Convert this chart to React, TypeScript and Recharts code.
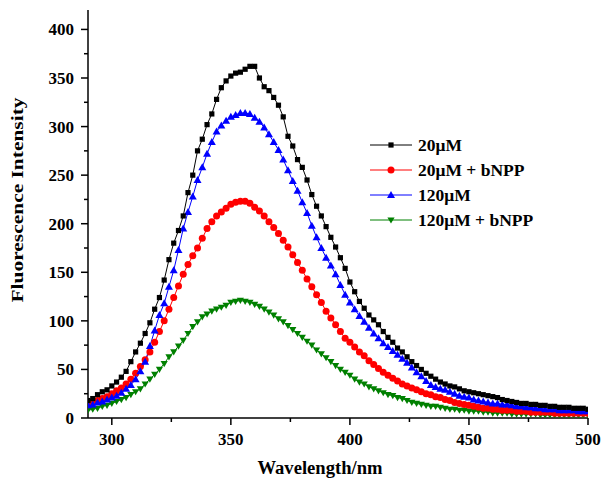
import React from 'react';
import { LineChart, Line, XAxis, YAxis, Legend } from 'recharts';

const wavelengths = [
  290, 292, 294, 296, 298, 300, 302, 304, 306, 308, 310, 312, 314, 316, 318, 320, 322, 324, 326, 328,
  330, 332, 334, 336, 338, 340, 342, 344, 346, 348, 350, 352, 354, 356, 358, 360, 362, 364, 366, 368,
  370, 372, 374, 376, 378, 380, 382, 384, 386, 388, 390, 392, 394, 396, 398, 400, 402, 404, 406, 408,
  410, 412, 414, 416, 418, 420, 422, 424, 426, 428, 430, 432, 434, 436, 438, 440, 442, 444, 446, 448,
  450, 452, 454, 456, 458, 460, 462, 464, 466, 468, 470, 472, 474, 476, 478, 480, 482, 484, 486, 488,
  490, 492, 494, 496, 498, 500,
];

const s20 = [
  18, 20, 24, 27, 29, 33, 37, 42, 48, 58, 68, 77, 87, 98, 112, 124, 142, 163, 180, 193,
  208, 232, 250, 275, 287, 302, 313, 328, 340, 347, 352, 355, 356, 359, 362, 362, 350, 341, 337, 330,
  322, 310, 290, 280, 266, 258, 245, 230, 218, 208, 197, 186, 176, 165, 154, 140, 130, 120, 113, 106,
  101, 96, 89, 83, 78, 72, 68, 63, 58, 54, 50, 46, 43, 40, 37, 35, 33, 32, 30, 28,
  27, 26, 25, 24, 23, 22, 21, 19, 18, 17, 16, 15, 15, 14, 14, 13, 13, 12, 12, 11,
  11, 11, 10, 10, 10, 9,
];

const s20b = [
  15, 16, 18, 20, 22, 25, 28, 31, 35, 40, 46, 53, 60, 68, 78, 89, 100, 112, 124, 136,
  148, 158, 167, 175, 185, 195, 202, 208, 212, 216, 220, 222, 223, 223, 221, 217, 213, 208, 202, 196,
  190, 183, 176, 168, 160, 152, 143, 135, 127, 119, 110, 103, 96, 89, 82, 78, 73, 68, 64, 59,
  55, 51, 47, 44, 41, 38, 35, 33, 31, 29, 27, 25, 24, 22, 21, 19, 18, 16, 15, 14,
  13, 12, 11, 10, 10, 9, 9, 8, 8, 8, 7, 7, 7, 6, 6, 6, 6, 6, 5, 5,
  5, 5, 5, 5, 5, 5,
];

const s120 = [
  13, 14, 16, 17, 19, 21, 23, 26, 30, 34, 40, 48, 58, 74, 90, 106, 118, 135, 152, 173,
  195, 212, 228, 245, 258, 272, 284, 295, 301, 306, 310, 312, 314, 314, 313, 309, 305, 299, 292, 284,
  276, 266, 255, 244, 234, 222, 211, 198, 186, 175, 165, 157, 148, 137, 127, 119, 112, 105, 99, 93,
  87, 82, 77, 73, 69, 65, 61, 57, 52, 47, 43, 38, 34, 32, 30, 29, 27, 25, 23, 22,
  21, 19, 18, 17, 16, 15, 15, 14, 14, 13, 12, 12, 11, 11, 10, 10, 9, 9, 9, 8,
  8, 8, 8, 7, 7, 7,
];

const s120b = [
  8, 9, 10, 12, 13, 15, 17, 19, 21, 24, 27, 30, 35, 40, 45, 50, 56, 63, 68, 74,
  80, 87, 94, 99, 104, 107, 110, 112, 114, 116, 119, 120, 121, 120, 119, 117, 115, 112, 109, 106,
  102, 99, 95, 91, 87, 83, 79, 75, 70, 66, 62, 58, 54, 50, 47, 44, 40, 37, 35, 32,
  30, 28, 26, 24, 23, 21, 20, 18, 16, 15, 14, 13, 12, 12, 11, 10, 9, 9, 8, 8,
  7, 7, 7, 6, 6, 5, 5, 5, 5, 4, 4, 4, 4, 4, 4, 3, 3, 3, 3, 3,
  3, 3, 3, 3, 3, 3,
];

const seriesNames = ['20μM', '20μM + bNPP', '120μM', '120μM + bNPP'];
const seriesColors = ['#000000', '#ff0000', '#0000ff', '#008000'];
const seriesKeys = ['a', 'b', 'c', 'd'];

const xTicks = [300, 325, 350, 375, 400, 425, 450, 475, 500];
const xMajor = [300, 350, 400, 450, 500];
const yTicks = [0, 25, 50, 75, 100, 125, 150, 175, 200, 225, 250, 275, 300, 325, 350, 375, 400];
const yMajor = [0, 50, 100, 150, 200, 250, 300, 350, 400];

const data = wavelengths.map((w, i) => ({ w, a: s20[i], b: s20b[i], c: s120[i], d: s120b[i] }));

const FONT = '"Liberation Serif", "Times New Roman", serif';

const XTick = (props: any) => {
  const { x, y, payload } = props;
  const major = xMajor.includes(payload.value);
  return (
    <g>
      <line x1={x} x2={x} y1={y} y2={y + (major ? 7 : 4)} stroke="#000" strokeWidth={1.5} />
      {major && (
        <text x={x} y={y + 27} textAnchor="middle" fontFamily={FONT} fontWeight="bold" fontSize={17} fill="#000">
          {payload.value}
        </text>
      )}
    </g>
  );
};

const YTick = (props: any) => {
  const { x, y, payload } = props;
  const major = yMajor.includes(payload.value);
  return (
    <g>
      <line x1={x} x2={x - (major ? 7 : 4)} y1={y} y2={y} stroke="#000" strokeWidth={1.5} />
      {major && (
        <text x={x - 14} y={y + 6} textAnchor="end" fontFamily={FONT} fontWeight="bold" fontSize={17} fill="#000">
          {payload.value}
        </text>
      )}
    </g>
  );
};

const markerShape = (idx: number, cx: number, cy: number, color: string, key?: any) => {
  if (cx == null || cy == null) return <g key={key} />;
  if (idx === 0) return <rect key={key} x={cx - 2.6} y={cy - 2.6} width={5.2} height={5.2} fill={color} />;
  if (idx === 1) return <circle key={key} cx={cx} cy={cy} r={3.5} fill={color} />;
  if (idx === 2)
    return <polygon key={key} points={`${cx},${cy - 4} ${cx - 4},${cy + 3} ${cx + 4},${cy + 3}`} fill={color} />;
  return <polygon key={key} points={`${cx},${cy + 3.6} ${cx - 3.6},${cy - 2.6} ${cx + 3.6},${cy - 2.6}`} fill={color} />;
};

const makeDot = (idx: number) => (props: any) =>
  markerShape(idx, props.cx, props.cy, seriesColors[idx], `${idx}-${props.index}`);

const LegendContent = () => (
  <svg width={200} height={100} style={{ overflow: 'visible' }}>
    {seriesNames.map((n, i) => {
      const cy = 12 + i * 25;
      return (
        <g key={n}>
          <line x1={2} x2={44} y1={cy} y2={cy} stroke={seriesColors[i]} strokeWidth={1} />
          {markerShape(i, 23, cy, seriesColors[i])}
          <text x={50} y={cy + 6} fontFamily={FONT} fontWeight="bold" fontSize={17.5} fill="#000">
            {n}
          </text>
        </g>
      );
    })}
  </svg>
);

const drawOrder = [3, 1, 2, 0];

export default function App() {
  return (
    <div style={{ position: 'absolute', left: 0, top: 0, width: 604, height: 479, background: '#fff' }}>
      <LineChart width={604} height={479} data={data} margin={{ top: 10, right: 16, left: 0, bottom: 0 }}>
        <XAxis
          dataKey="w"
          type="number"
          domain={[290, 500]}
          ticks={xTicks}
          interval={0}
          tick={<XTick />}
          tickLine={false}
          tickSize={0}
          tickMargin={0}
          height={61}
          stroke="#000"
          strokeWidth={1.5}
          allowDataOverflow
        />
        <XAxis xAxisId="top" orientation="top" dataKey="w" type="number" domain={[290, 500]} tick={false} tickLine={false} height={0} stroke="#000" strokeWidth={1.5} />
        <YAxis
          type="number"
          domain={[0, 420]}
          ticks={yTicks}
          interval={0}
          tick={<YTick />}
          tickLine={false}
          tickSize={0}
          tickMargin={0}
          width={88}
          stroke="#000"
          strokeWidth={1.5}
          allowDataOverflow
        />
        <YAxis yAxisId="right" orientation="right" domain={[0, 420]} tick={false} tickLine={false} width={0} stroke="#000" strokeWidth={1.5} />
        {drawOrder.map((i) => (
          <Line
            key={seriesKeys[i]}
            dataKey={seriesKeys[i]}
            name={seriesNames[i]}
            type="linear"
            stroke={seriesColors[i]}
            strokeWidth={1}
            dot={makeDot(i)}
            activeDot={false}
            isAnimationActive={false}
          />
        ))}
        <Legend
          layout="vertical"
          align="center"
          verticalAlign="middle"
          content={<LegendContent />}
          wrapperStyle={{ left: 368, top: 133, width: 200, height: 100 }}
        />
      </LineChart>
      <svg style={{ position: 'absolute', left: 0, top: 0, pointerEvents: 'none' }} width={604} height={479}>
        <text
          transform="translate(23,200) rotate(-90)"
          textAnchor="middle"
          fontFamily={FONT}
          fontWeight="bold"
          fontSize={16}
          textLength={205}
          lengthAdjust="spacingAndGlyphs"
          fill="#000"
        >
          Fluorescence Intensity
        </text>
        <text
          x={320}
          y={474}
          textAnchor="middle"
          fontFamily={FONT}
          fontWeight="bold"
          fontSize={18}
          textLength={125}
          lengthAdjust="spacingAndGlyphs"
          fill="#000"
        >
          Wavelength/nm
        </text>
      </svg>
    </div>
  );
}
